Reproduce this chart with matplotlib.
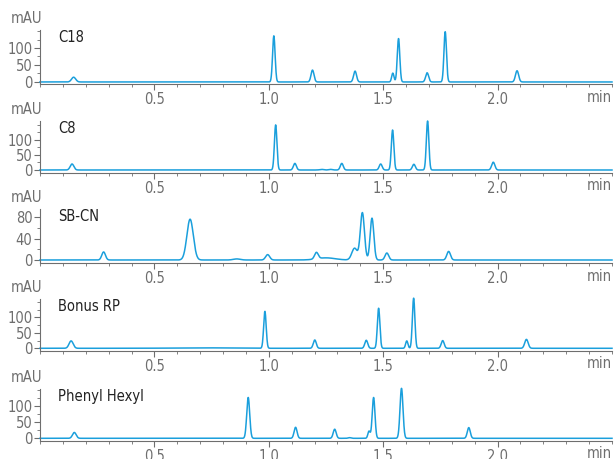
import numpy as np
import matplotlib
matplotlib.use("Agg")
import matplotlib.pyplot as plt
from matplotlib.ticker import MultipleLocator, FixedLocator

plt.rcParams['font.family'] = ['DejaVu Sans']
plt.rcParams['font.stretch'] = 'condensed'

# ---- data ----
panel_names = ["C18", "C8", "SB-CN", "Bonus RP", "Phenyl Hexyl"]

c18_rt = [0.147, 1.022, 1.191, 1.377, 1.542, 1.567, 1.692, 1.771, 2.085]
c18_h  = [14, 136, 35, 32, 26, 128, 27, 148, 33]
c18_w  = [0.009, 0.0055, 0.0065, 0.0065, 0.005, 0.0055, 0.0065, 0.0055, 0.007]

c8_rt = [0.140, 1.030, 1.114, 1.23, 1.27, 1.319, 1.489, 1.541, 1.634, 1.694, 1.981]
c8_h  = [20, 150, 22, 2, 2, 22, 20, 133, 19, 163, 26]
c8_w  = [0.008, 0.0055, 0.0065, 0.008, 0.008, 0.0065, 0.0065, 0.0055, 0.0065, 0.0055, 0.007]

sbcn_rt = [0.278, 0.656, 0.86, 0.995, 1.208, 1.25, 1.375, 1.409, 1.451, 1.516, 1.786]
sbcn_h  = [15, 76, 2, 10, 12, 4, 22, 88, 78, 13, 16]
sbcn_w  = [0.008, 0.014, 0.015, 0.009, 0.008, 0.04, 0.012, 0.009, 0.008, 0.008, 0.008]

bonus_rt = [0.136, 0.70, 0.983, 1.201, 1.426, 1.480, 1.603, 1.633, 1.760, 2.126]
bonus_h  = [24, 1.5, 120, 27, 26, 130, 24, 163, 25, 29]
bonus_w  = [0.009, 0.12, 0.0055, 0.0065, 0.0065, 0.0055, 0.005, 0.0055, 0.0065, 0.0075]

phenyl_rt = [0.150, 0.910, 1.117, 1.288, 1.353, 1.438, 1.458, 1.580, 1.874]
phenyl_h  = [18, 126, 34, 28, 2, 22, 126, 154, 33]
phenyl_w  = [0.008, 0.0065, 0.0065, 0.0065, 0.006, 0.005, 0.006, 0.0065, 0.0065]

peak_rt = [c18_rt, c8_rt, sbcn_rt, bonus_rt, phenyl_rt]
peak_h = [c18_h, c8_h, sbcn_h, bonus_h, phenyl_h]
peak_w = [c18_w, c8_w, sbcn_w, bonus_w, phenyl_w]

y_ticks = [[0, 50, 100], [0, 50, 100], [0, 40, 80], [0, 50, 100], [0, 50, 100]]
y_minor = [25, 25, 20, 25, 25]
y_limits = [(-6, 153), (-10, 163), (-5.6, 95), (-8.8, 160), (-8.3, 152)]
x_ticks = [0.5, 1.0, 1.5, 2.0]
x_tick_labels = ["0.5", "1.0", "1.5", "2.0"]
x_unit = "min"
y_unit = "mAU"

# ---- layout ----
W, H = 615, 459
tops_px = [30, 121, 209, 299, 389]
bots_px = [84, 173, 263, 351, 441]
left_px, right_px = 40, 612

line_color = "#1a9fdc"
gray = "#6e6e6e"

fig = plt.figure(figsize=(W / 100, H / 100), dpi=100)
t = np.linspace(0, 2.5, 3001)

for i, name in enumerate(panel_names):
    ax = fig.add_axes([left_px / W, 1 - bots_px[i] / H,
                       (right_px - left_px) / W, (bots_px[i] - tops_px[i]) / H])
    y = np.zeros_like(t)
    for rt, h, w in zip(peak_rt[i], peak_h[i], peak_w[i]):
        y += h * np.exp(-0.5 * ((t - rt) / w) ** 2)
    ax.plot(t, y, color=line_color, lw=1.1, clip_on=False)
    ax.set_xlim(0, 2.5)
    ax.set_ylim(*y_limits[i])
    for s in ["top", "right"]:
        ax.spines[s].set_visible(False)
    for s in ["left", "bottom"]:
        ax.spines[s].set_color(gray)
        ax.spines[s].set_linewidth(0.8)
    ax.xaxis.set_major_locator(FixedLocator(x_ticks))
    ax.set_xticklabels(x_tick_labels)
    ax.xaxis.set_minor_locator(MultipleLocator(0.1))
    ax.yaxis.set_major_locator(FixedLocator(y_ticks[i]))
    ax.yaxis.set_minor_locator(MultipleLocator(y_minor[i]))
    ax.tick_params(axis="both", which="major", direction="out", length=4,
                   width=0.8, color=gray, labelcolor=gray, labelsize=10.5, pad=1.5)
    ax.tick_params(axis="both", which="minor", direction="out", length=2.5,
                   width=0.6, color=gray)
    ax.text(1.0, -0.245, x_unit, transform=ax.transAxes, ha="right", va="center",
            color=gray, fontsize=10.5)
    ax.text(-0.052, 1.07, y_unit, transform=ax.transAxes, ha="left", va="bottom",
            color=gray, fontsize=10.5)
    ax.text(0.032, 1.0, name, transform=ax.transAxes, ha="left", va="top",
            color="#222222", fontsize=10.5)

fig.savefig("out.png", dpi=100)
